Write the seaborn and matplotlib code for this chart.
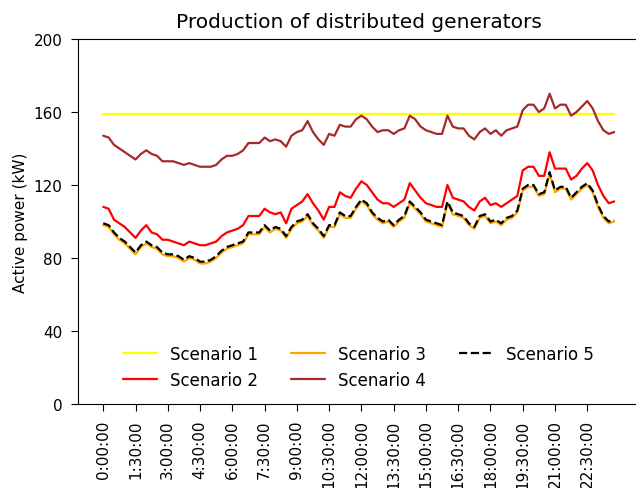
import matplotlib
matplotlib.use("Agg")
import matplotlib.pyplot as plt
import seaborn as sns
import numpy as np

# 15-minute steps over one day
n_steps = 96
tick_step = 6
tick_labels = [f"{(i * 15) // 60}:{(i * 15) % 60:02d}:00" for i in range(0, n_steps, tick_step)]

scenario_1 = [159] * n_steps

scenario_2 = [108, 107, 101, 99, 97, 94, 91, 95, 98, 94, 93, 90, 90, 89, 88, 87,
              89, 88, 87, 87, 88, 89, 92, 94, 95, 96, 98, 103, 103, 103, 107, 105,
              104, 105, 99, 107, 109, 111, 115, 110, 106, 101, 108, 108, 116, 114, 113, 118,
              122, 120, 116, 112, 110, 110, 108, 110, 112, 121, 117, 113, 110, 109, 108, 108,
              120, 113, 112, 111, 108, 106, 111, 113, 109, 110, 108, 110, 112, 114, 128, 130,
              130, 125, 125, 138, 129, 129, 129, 123, 125, 129, 132, 128, 120, 114, 110, 111]

scenario_3 = [98, 97, 93, 90, 88, 85, 82, 86, 88, 86, 85, 82, 81, 81, 80, 78,
              80, 79, 77, 77, 78, 80, 83, 85, 86, 87, 88, 93, 93, 93, 97, 94,
              96, 95, 91, 96, 99, 100, 103, 98, 95, 91, 97, 97, 104, 102, 102, 107,
              111, 109, 104, 101, 99, 100, 97, 100, 102, 110, 107, 104, 100, 99, 98, 97,
              110, 104, 103, 102, 98, 96, 102, 103, 99, 100, 98, 101, 102, 105, 117, 119,
              119, 114, 115, 126, 116, 118, 118, 112, 115, 118, 120, 116, 108, 102, 99, 100]

scenario_4 = [147, 146, 142, 140, 138, 136, 134, 137, 139, 137, 136, 133, 133, 133, 132, 131,
              132, 131, 130, 130, 130, 131, 134, 136, 136, 137, 139, 143, 143, 143, 146, 144,
              145, 144, 141, 147, 149, 150, 155, 149, 145, 142, 148, 147, 153, 152, 152, 156,
              158, 156, 152, 149, 150, 150, 148, 150, 151, 158, 156, 152, 150, 149, 148, 148,
              158, 152, 151, 151, 147, 145, 149, 151, 148, 150, 147, 150, 151, 152, 161, 164,
              164, 160, 162, 170, 162, 164, 164, 158, 160, 163, 166, 162, 155, 150, 148, 149]

scenario_5 = [99, 98, 94, 91, 89, 86, 83, 87, 89, 87, 86, 83, 82, 82, 81, 79,
              81, 80, 78, 78, 79, 81, 84, 86, 87, 88, 89, 94, 94, 94, 98, 95,
              97, 96, 92, 97, 100, 101, 104, 99, 96, 92, 98, 98, 105, 103, 103, 108,
              112, 110, 105, 102, 100, 101, 98, 101, 103, 111, 108, 105, 101, 100, 99, 98,
              111, 105, 104, 103, 99, 97, 103, 104, 100, 101, 99, 102, 103, 106, 118, 120,
              120, 115, 116, 127, 117, 119, 119, 113, 116, 119, 121, 117, 109, 103, 100, 101]

sns.set_style("ticks", {
    "axes.edgecolor": "black",
    "text.color": "black",
    "axes.labelcolor": "black",
    "xtick.color": "black",
    "ytick.color": "black",
})
plt.rcParams["font.family"] = ["DejaVu Sans"]

fig = plt.figure(figsize=(6.36, 4.89), dpi=100)
ax = fig.add_axes([77.7 / 636, 84 / 489, 562 / 636, 365 / 489])

x = np.arange(n_steps)
series = [
    (scenario_1, "Scenario 1", "yellow", "-"),
    (scenario_2, "Scenario 2", "red", "-"),
    (scenario_3, "Scenario 3", "orange", "-"),
    (scenario_4, "Scenario 4", "brown", "-"),
    (scenario_5, "Scenario 5", "black", "--"),
]
for values, label, color, ls in series:
    sns.lineplot(x=x, y=values, ax=ax, color=color, linestyle=ls, linewidth=1.6, label=label)

ax.set_ylim(0, 200)
ax.set_yticks(range(0, 201, 40))
ax.set_xlim(-4.75, 99.75)
ax.set_xticks(range(0, n_steps, tick_step))
ax.set_xticklabels(tick_labels, rotation=90)
ax.tick_params(labelsize=11, length=5, pad=6, color="black", labelcolor="black")
ax.set_xlabel("")
ax.set_ylabel("Active power (kW)", fontsize=11)
ax.set_title("Production of distributed generators", fontsize=14.5, pad=9)
for side in ["top", "right", "left", "bottom"]:
    ax.spines[side].set_visible(True)
    ax.spines[side].set_color("black")

ax.legend(loc="lower center", ncol=3, frameon=False, fontsize=12)

fig.savefig("out.png", dpi=100)
